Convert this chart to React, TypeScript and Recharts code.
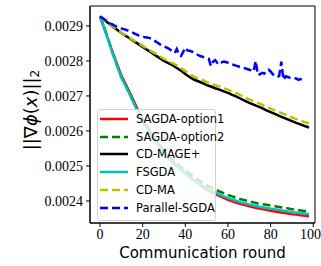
import React from 'react';
import { LineChart, Line, XAxis, YAxis, Legend, ReferenceArea } from 'recharts';

// communication rounds for the smooth curves
const rounds = [
  0, 2, 4, 6, 8, 10, 12, 14, 16, 18, 20, 22, 24, 26, 28, 30, 32, 34, 36, 38, 40, 42, 44, 46, 48,
  50, 52, 54, 56, 58, 60, 62, 64, 66, 68, 70, 72, 74, 76, 78, 80, 82, 84, 86, 88, 90, 92, 94, 96, 98,
];

const sagdaOpt1 = [
  0.002927, 0.002893, 0.002858, 0.002823, 0.002791, 0.002758, 0.002734, 0.002709, 0.002683, 0.002656,
  0.002634, 0.002613, 0.002594, 0.002575, 0.002558, 0.002541, 0.002526, 0.002513, 0.002501, 0.002489,
  0.002479, 0.002468, 0.002459, 0.00245, 0.002441, 0.002433, 0.002426, 0.00242, 0.002414, 0.002409,
  0.002403, 0.002399, 0.002395, 0.002391, 0.002388, 0.002385, 0.002382, 0.002379, 0.002377, 0.002375,
  0.002372, 0.00237, 0.002368, 0.002366, 0.002364, 0.002362, 0.002361, 0.002359, 0.002358, 0.002356,
];

const sagdaOpt2 = [
  0.002927, 0.002895, 0.002859, 0.002822, 0.002787, 0.002754, 0.002731, 0.002706, 0.00268, 0.002654,
  0.002632, 0.002611, 0.002593, 0.002575, 0.002559, 0.002544, 0.002531, 0.002518, 0.002507, 0.002496,
  0.002487, 0.002477, 0.002468, 0.00246, 0.002452, 0.002445, 0.002439, 0.002433, 0.002427, 0.002422,
  0.002417, 0.002413, 0.002409, 0.002405, 0.002402, 0.002399, 0.002396, 0.002393, 0.002391, 0.002389,
  0.002387, 0.002385, 0.002383, 0.002381, 0.002379, 0.002376, 0.002375, 0.002373, 0.002371, 0.002369,
];

const cdMagePlus = [
  0.002927, 0.002917, 0.002908, 0.002898, 0.002889, 0.00288, 0.002872, 0.002864, 0.002856, 0.002848,
  0.00284, 0.002832, 0.002824, 0.002816, 0.002808, 0.0028, 0.002794, 0.002788, 0.00278, 0.002772,
  0.002763, 0.002754, 0.002747, 0.002742, 0.002737, 0.002731, 0.002727, 0.002722, 0.002718, 0.002713,
  0.002709, 0.002703, 0.002698, 0.002692, 0.002686, 0.00268, 0.002675, 0.00267, 0.002665, 0.002659,
  0.002654, 0.002649, 0.002643, 0.002638, 0.002633, 0.002628, 0.002623, 0.002619, 0.002614, 0.00261,
];

const fsgda = [
  0.002927, 0.002893, 0.002857, 0.00282, 0.002785, 0.002752, 0.002728, 0.002703, 0.002677, 0.00265,
  0.002628, 0.002607, 0.002588, 0.00257, 0.002553, 0.002538, 0.002524, 0.002511, 0.002499, 0.002488,
  0.002478, 0.002468, 0.002459, 0.002451, 0.002443, 0.002436, 0.00243, 0.002424, 0.002418, 0.002413,
  0.002408, 0.002404, 0.0024, 0.002396, 0.002393, 0.00239, 0.002387, 0.002384, 0.002382, 0.00238,
  0.002378, 0.002376, 0.002374, 0.002372, 0.00237, 0.002368, 0.002367, 0.002365, 0.002364, 0.002362,
];

const cdMa = [
  0.002927, 0.002918, 0.002909, 0.002899, 0.00289, 0.002881, 0.002874, 0.002866, 0.002858, 0.002851,
  0.002843, 0.002836, 0.002828, 0.002821, 0.002813, 0.002806, 0.0028, 0.002794, 0.002787, 0.002779,
  0.002771, 0.002762, 0.002755, 0.00275, 0.002746, 0.00274, 0.002736, 0.002731, 0.002727, 0.002722,
  0.002718, 0.002713, 0.002708, 0.002702, 0.002696, 0.00269, 0.002685, 0.00268, 0.002675, 0.002669,
  0.002664, 0.002659, 0.002654, 0.002649, 0.002644, 0.002639, 0.002634, 0.00263, 0.002625, 0.002622,
];

// Parallel-SGDA is noisy, read every round
const parallelRounds = [
  0, 1, 2, 3, 4, 5, 6, 7, 8, 9, 10, 11, 12, 13, 14, 15, 16, 17, 18, 19, 20, 21, 22, 23, 24,
  25, 26, 27, 28, 29, 30, 31, 32, 33, 34, 35, 36, 37, 38, 39, 40, 41, 42, 43, 44, 45, 46, 47, 48, 49,
  50, 51, 52, 53, 54, 55, 56, 57, 58, 59, 60, 61, 62, 63, 64, 65, 66, 67, 68, 69, 70, 71, 72, 73, 74,
  75, 76, 77, 78, 79, 80, 81, 82, 83, 84, 85, 86, 87, 88, 89, 90, 91, 92, 93, 94, 95, 96,
];

const parallelSgda = [
  0.002927, 0.002923, 0.002919, 0.002915, 0.002911, 0.002907, 0.002904, 0.0029, 0.002897, 0.002895,
  0.002893, 0.002891, 0.002889, 0.002887, 0.002885, 0.002882, 0.002879, 0.002876, 0.002873, 0.00287,
  0.002869, 0.002868, 0.002867, 0.002866, 0.002864, 0.00286, 0.002856, 0.002852, 0.002848, 0.002845,
  0.002842, 0.002839, 0.002836, 0.002832, 0.002826, 0.002823, 0.002834, 0.002818, 0.002814, 0.002826,
  0.002838, 0.00283, 0.002829, 0.002827, 0.002824, 0.00282, 0.002817, 0.002814, 0.002812, 0.00281,
  0.002808, 0.002806, 0.002785, 0.002798, 0.002802, 0.002795, 0.0028, 0.002796, 0.002798, 0.002797,
  0.002795, 0.002792, 0.00279, 0.002788, 0.002786, 0.002784, 0.002782, 0.00278, 0.002779, 0.002777,
  0.002775, 0.002773, 0.00277, 0.0028, 0.00276, 0.002762, 0.002766, 0.002764, 0.00277, 0.002775,
  0.00277, 0.002762, 0.002758, 0.002754, 0.002757, 0.002798, 0.002746, 0.002756, 0.002754, 0.002752,
  0.002752, 0.002751, 0.00275, 0.002746, 0.002748, 0.002746, 0.002745,
];

const xTicks = [0, 20, 40, 60, 80, 100];
const yTicks = [0.0024, 0.0025, 0.0026, 0.0027, 0.0028, 0.0029];

const X_DOMAIN: [number, number] = [-4.7, 100.8];
const Y_DOMAIN: [number, number] = [0.002337, 0.002957];

const mainData = rounds.map((r, i) => ({
  round: r,
  sagda1: sagdaOpt1[i],
  sagda2: sagdaOpt2[i],
  cdMage: cdMagePlus[i],
  fsgda: fsgda[i],
  cdMa: cdMa[i],
}));

const parallelData = parallelRounds.map((r, i) => ({ round: r, parallel: parallelSgda[i] }));

const series = [
  { key: 'sagda1', name: 'SAGDA-option1', color: '#ff0000', dash: undefined },
  { key: 'sagda2', name: 'SAGDA-option2', color: '#008000', dash: '8 4' },
  { key: 'cdMage', name: 'CD-MAGE+', color: '#000000', dash: undefined },
  { key: 'fsgda', name: 'FSGDA', color: '#00bfbf', dash: undefined },
  { key: 'cdMa', name: 'CD-MA', color: '#bfbf00', dash: '8 4' },
  { key: 'parallel', name: 'Parallel-SGDA', color: '#0000ff', dash: '8 4' },
];

const tickFont = { fontFamily: 'Liberation Serif', fontSize: 14, fill: '#000' };

const renderLegend = () => (
  <div
    style={{
      background: 'rgba(255,255,255,0.8)',
      border: '1px solid #d0d0d0',
      borderRadius: 3,
      padding: '0 0 3px 2px',
      width: 119,
      boxSizing: 'border-box',
    }}
  >
    {series.map((s) => (
      <div key={s.key} style={{ display: 'flex', alignItems: 'center', height: 17.8 }}>
        <svg width={28} height={10} style={{ flexShrink: 0 }}>
          <line x1={0} y1={5} x2={28} y2={5} stroke={s.color} strokeWidth={2.5} strokeDasharray={s.dash} />
        </svg>
        <span
          style={{
            marginLeft: 8,
            fontFamily: 'DejaVu Sans',
            fontSize: 11.5,
            color: '#000',
            whiteSpace: 'nowrap',
          }}
        >
          {s.name}
        </span>
      </div>
    ))}
  </div>
);

const GradLabel = () => (
  <text
    transform="translate(30,110) rotate(-90)"
    textAnchor="middle"
    dominantBaseline="central"
    fontFamily="DejaVu Sans"
    fontSize={18}
    fill="#000"
  >
    ||∇<tspan fontStyle="italic">ϕ</tspan>(<tspan fontStyle="italic">x</tspan>)||
    <tspan fontSize={12} dy={5}>
      2
    </tspan>
  </text>
);

export default function App() {
  return (
    <div style={{ position: 'absolute', left: 0, top: 0, width: 321, height: 266, background: '#fff' }}>
      <LineChart width={321} height={266} margin={{ top: 6, right: 6, left: 0, bottom: 0 }}>
        <XAxis
          dataKey="round"
          type="number"
          domain={X_DOMAIN}
          ticks={xTicks}
          allowDataOverflow
          height={43}
          tick={tickFont}
          tickSize={4}
          tickMargin={2}
          stroke="#000"
          label={{
            value: 'Communication round',
            position: 'insideBottom',
            offset: 8,
            style: { fontFamily: 'DejaVu Sans', fontSize: 15, fill: '#000' },
          }}
        />
        <YAxis
          type="number"
          domain={Y_DOMAIN}
          ticks={yTicks}
          allowDataOverflow
          width={90}
          tick={tickFont}
          tickSize={4}
          tickMargin={3}
          stroke="#000"
          tickFormatter={(v: number) => v.toFixed(4)}
          label={() => <GradLabel />}
        />
        <ReferenceArea
          x1={X_DOMAIN[0]}
          x2={X_DOMAIN[1]}
          y1={Y_DOMAIN[0]}
          y2={Y_DOMAIN[1]}
          fill="none"
          stroke="#000"
          strokeWidth={1}
          ifOverflow="visible"
        />
        {series.slice(0, 5).map((s) => (
          <Line
            key={s.key}
            data={mainData}
            dataKey={s.key}
            name={s.name}
            stroke={s.color}
            strokeWidth={2.5}
            strokeDasharray={s.dash}
            dot={false}
            type="linear"
            isAnimationActive={false}
          />
        ))}
        <Line
          data={parallelData}
          dataKey="parallel"
          name="Parallel-SGDA"
          stroke="#0000ff"
          strokeWidth={2.5}
          strokeDasharray="8 4"
          dot={false}
          type="linear"
          isAnimationActive={false}
        />
        <Legend
          layout="vertical"
          align="center"
          verticalAlign="middle"
          content={renderLegend}
          wrapperStyle={{ left: 97, top: 109, width: 'auto', height: 'auto' }}
        />
      </LineChart>
    </div>
  );
}
